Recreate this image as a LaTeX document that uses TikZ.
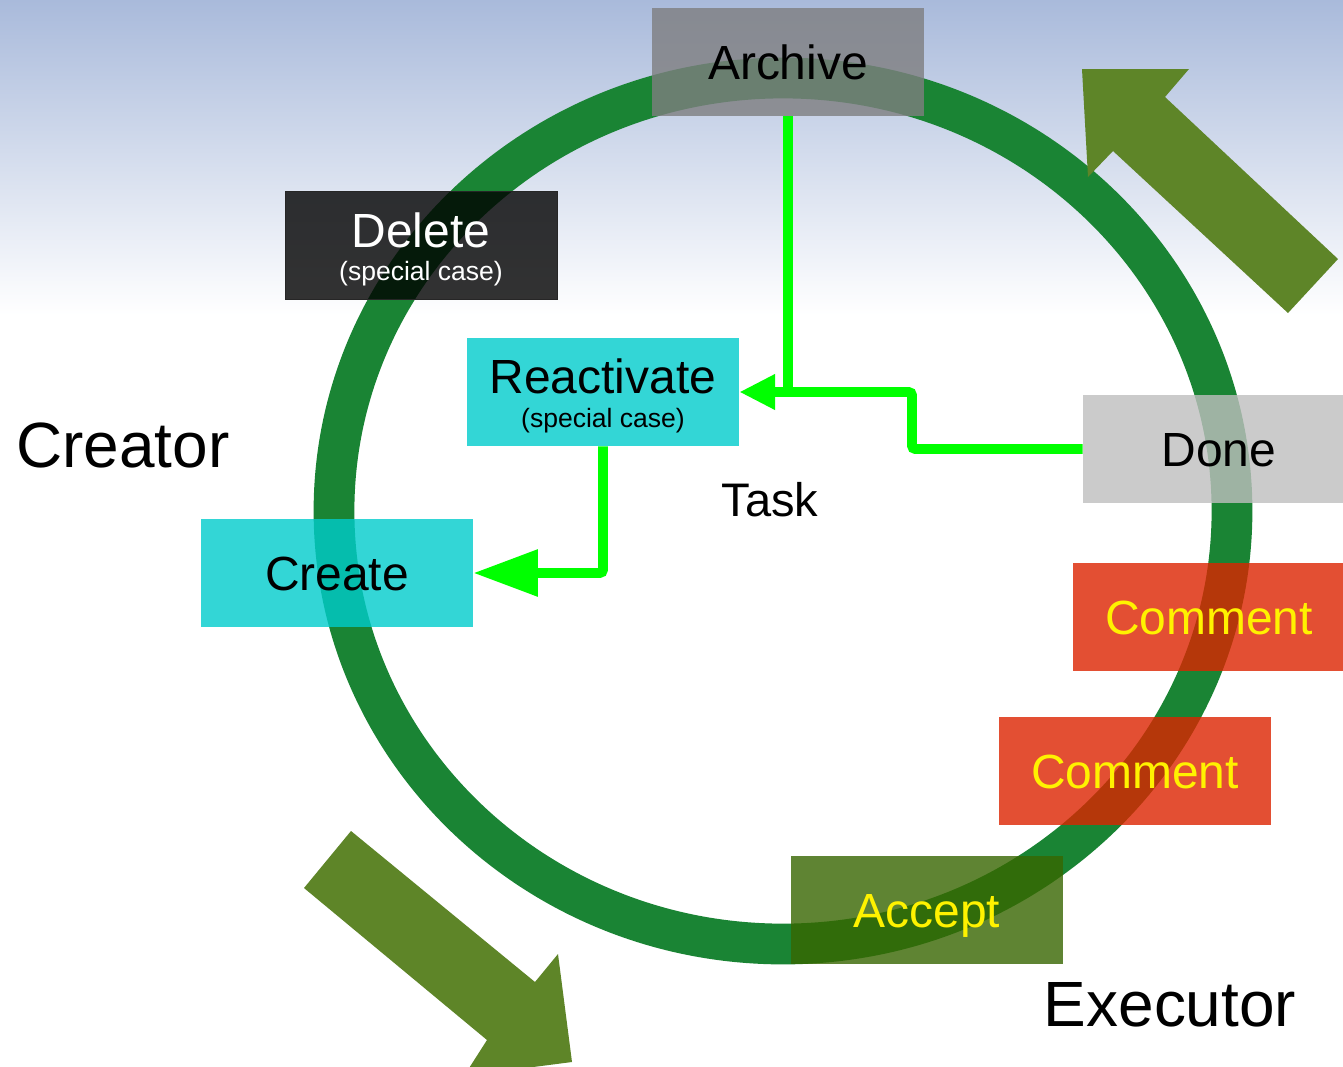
\documentclass[tikz,border=0pt]{standalone}
\usepackage{fontspec}
\setmainfont{Liberation Sans}
\usetikzlibrary{arrows.meta}
\definecolor{skyblue}{HTML}{A9BADB}
\definecolor{ringgreen}{HTML}{1A8434}
\definecolor{bigarrow}{HTML}{5E8528}
\definecolor{flowgreen}{HTML}{00FF00}
\definecolor{stepcyan}{HTML}{00CCCC}
\definecolor{archivegrey}{HTML}{7E7E80}
\definecolor{donegrey}{HTML}{BFBFBF}
\definecolor{commentred}{HTML}{DC2400}
\definecolor{acceptolive}{HTML}{376600}
\newcommand{\specialcase}{{\fontsize{15.1}{16}\selectfont (special case)}}

\begin{document}
\begin{tikzpicture}[x=0.02cm,y=-0.02cm,
  box/.style={minimum width=5.44cm,minimum height=2.16cm,inner sep=0pt,
    fill opacity=0.8,text opacity=1,align=center,text height=19.5pt,text depth=0pt,
    font=\fontsize{27.3}{19}\selectfont},
  twoline/.style={text height=40pt,text depth=0pt},
  role/.style={font=\fontsize{36.4}{40}\selectfont},
  flow/.style={draw=flowgreen,line width=5.67pt,rounded corners=2pt}]

\clip (0,0) rectangle (1343,1066);
\fill[white] (0,0) rectangle (1343,1066);
\shade[top color=skyblue,bottom color=white] (0,0) rectangle (1343,315);

% the task cycle
\draw[ringgreen,line width=23.2pt] (783,511) ellipse [x radius=449,y radius=433];

% direction of the cycle
\fill[bigarrow] (1082,69) -- (1189,69) -- (1165,97) -- (1338,259) -- (1288,313)
  -- (1113,151) -- (1088,177) -- cycle;
\fill[bigarrow] (351,831) -- (304,888) -- (487,1040) -- (464,1076) -- (572,1062)
  -- (558,954) -- (535,982) -- cycle;

% steps
\node[box,fill=archivegrey] (archive) at (788,62) {Archive};
\node[box,twoline,fill=black,draw=black!85,text=white] (delete) at (421,245.5)
  {Delete\\\specialcase};
\node[box,twoline,fill=stepcyan] (reactivate) at (603,392)
  {Reactivate\\\specialcase};
\node[box,fill=stepcyan] (create) at (337,573) {Create};
\node[box,fill=donegrey] (done) at (1219,449) {Done};
\node[box,fill=commentred,text=yellow] (comment1) at (1209,617) {Comment};
\node[box,fill=commentred,text=yellow] (comment2) at (1135,771) {Comment};
\node[box,fill=acceptolive,text=yellow] (accept) at (927,910) {Accept};

% labels
\node[role] (creator) at (123,445) {Creator};
\node[font=\fontsize{26.8}{30}\selectfont] (task) at (770,500) {Task};
\node[role] (executor) at (1170,1005) {Executor};

% reopening paths
\draw[flow,-{Triangle[length=20.4pt,width=19pt]}] (done.west) -- (912,449)
  -- (912,392) -- (reactivate.east);
\draw[flow] (archive.south) -- (archive.south |- reactivate.east);
\draw[flow,-{Triangle[length=36.8pt,width=25.5pt]}] (reactivate.south) |- (create.east);
\end{tikzpicture}
\end{document}
